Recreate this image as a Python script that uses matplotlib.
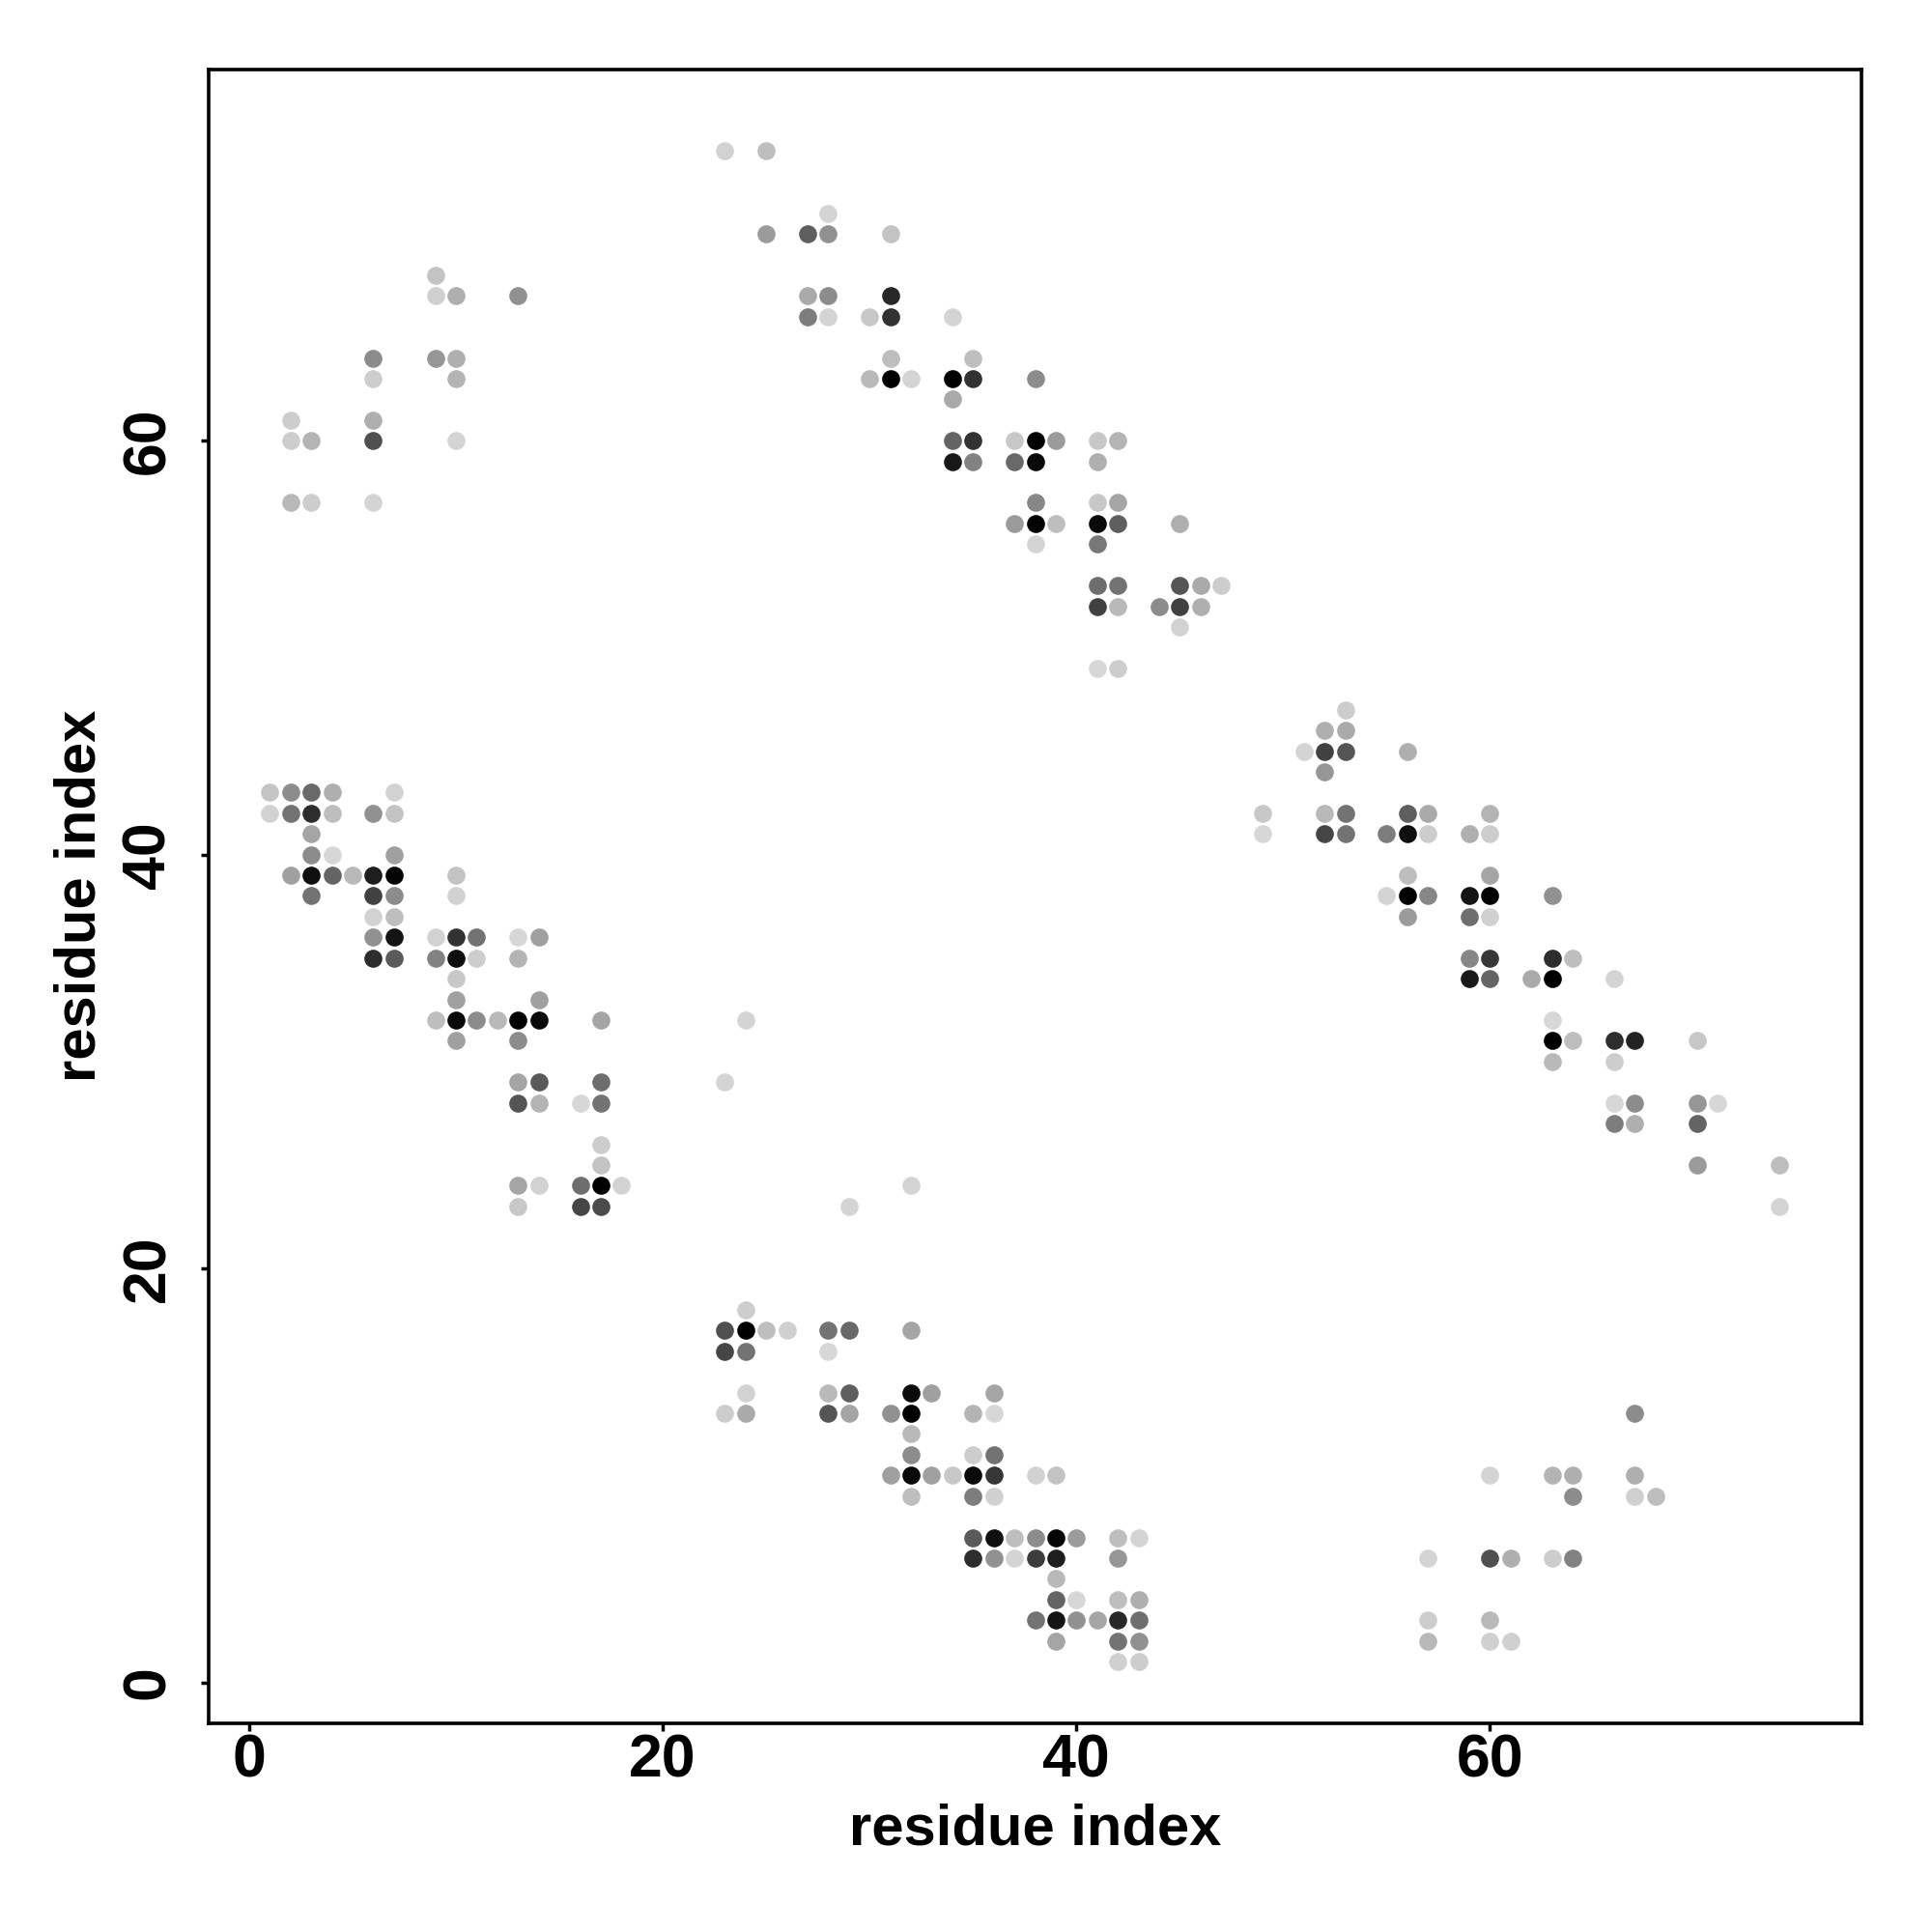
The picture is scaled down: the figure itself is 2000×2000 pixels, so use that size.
import matplotlib
matplotlib.use("Agg")
import matplotlib.pyplot as plt

plt.rcParams['font.family'] = ['Liberation Sans', 'DejaVu Sans']

row_y = [74, 71, 70, 68, 67, 66, 64, 63, 62, 61, 60, 59, 57, 56, 55, 53, 52, 51, 49,
         47, 46, 45, 44, 43, 42, 41, 40, 39, 38, 37, 36, 35, 34, 33, 32, 31, 30,
         29, 28, 27, 26, 25, 24, 23, 18, 17, 16, 14, 13, 12, 11, 10, 9, 7, 6, 5, 4, 3, 2, 1]

row_x = [
    [23, 25],
    [28],
    [25, 27, 28, 31],
    [9],
    [9, 10, 13, 27, 28, 31],
    [27, 28, 30, 31, 34],
    [6, 9, 10, 31, 35],
    [6, 10, 30, 31, 32, 34, 35, 38],
    [34],
    [2, 6],
    [2, 3, 6, 10, 34, 35, 37, 38, 39, 41, 42],
    [34, 35, 37, 38, 41],
    [2, 3, 6, 38, 41, 42],
    [37, 38, 39, 41, 42, 45],
    [38, 41],
    [41, 42, 45, 46, 47],
    [41, 42, 44, 45, 46],
    [45],
    [41, 42],
    [53],
    [52, 53],
    [51, 52, 53, 56],
    [52],
    [1, 2, 3, 4, 7],
    [1, 2, 3, 4, 6, 7, 49, 52, 53, 56, 57, 60],
    [3, 49, 52, 53, 55, 56, 57, 59, 60],
    [3, 4, 7],
    [2, 3, 4, 5, 6, 7, 10, 56, 60],
    [3, 6, 7, 10, 55, 56, 57, 59, 60, 63],
    [6, 7, 56, 59, 60],
    [6, 7, 9, 10, 11, 13, 14],
    [6, 7, 9, 10, 11, 13, 59, 60, 63, 64],
    [10, 59, 60, 62, 63, 66],
    [10, 14],
    [9, 10, 11, 12, 13, 14, 17, 24, 63],
    [10, 13, 63, 64, 66, 67, 70],
    [63, 66],
    [13, 14, 17, 23],
    [13, 14, 16, 17, 66, 67, 70, 71],
    [66, 67, 70],
    [17],
    [17, 70, 74],
    [13, 14, 16, 17, 18, 32],
    [13, 16, 17, 29, 74],
    [24],
    [23, 24, 25, 26, 28, 29, 32],
    [23, 24, 28],
    [24, 28, 29, 32, 33, 36],
    [23, 24, 28, 29, 31, 32, 35, 36, 67],
    [32],
    [32, 35, 36],
    [31, 32, 33, 34, 35, 36, 38, 39, 60, 63, 64, 67],
    [32, 35, 36, 64, 67, 68],
    [35, 36, 37, 38, 39, 40, 42, 43],
    [35, 36, 37, 38, 39, 42, 57, 60, 61, 63, 64],
    [39],
    [39, 40, 42, 43],
    [38, 39, 40, 41, 42, 43, 57, 60],
    [39, 42, 43, 57, 60, 61],
    [42, 43],
]

row_gray = [
    [210, 190],
    [212],
    [155, 95, 145, 195],
    [195],
    [208, 175, 145, 170, 140, 40],
    [125, 212, 200, 50, 212],
    [140, 150, 175, 190, 190],
    [205, 180, 185, 0, 212, 0, 50, 140],
    [170],
    [205, 175],
    [205, 180, 80, 212, 100, 50, 200, 0, 155, 200, 180],
    [25, 130, 105, 10, 175],
    [185, 205, 212, 135, 200, 165],
    [155, 0, 190, 10, 95, 175],
    [212, 120],
    [110, 115, 85, 170, 205],
    [65, 185, 140, 65, 175],
    [210],
    [215, 205],
    [205],
    [175, 170],
    [212, 65, 85, 175],
    [150],
    [197, 140, 105, 175, 210],
    [210, 115, 45, 190, 145, 195, 200, 185, 115, 95, 170, 180],
    [165, 215, 70, 115, 125, 15, 205, 175, 205],
    [140, 215, 160],
    [160, 15, 100, 185, 30, 5, 195, 190, 165],
    [115, 65, 140, 210, 212, 0, 135, 20, 0, 145],
    [210, 190, 155, 110, 208],
    [145, 20, 210, 50, 115, 215, 160],
    [45, 90, 130, 15, 205, 180, 135, 55, 45, 190],
    [200, 25, 100, 170, 0, 212],
    [160, 160],
    [190, 10, 140, 185, 0, 10, 165, 212, 215],
    [160, 140, 0, 190, 45, 35, 200],
    [185, 205],
    [165, 90, 110, 212],
    [85, 180, 215, 115, 215, 140, 150, 215],
    [125, 175, 100],
    [205],
    [195, 155, 190],
    [165, 210, 110, 0, 210, 212],
    [200, 70, 75, 212, 212],
    [205],
    [80, 0, 190, 208, 115, 105, 165],
    [70, 115, 215],
    [210, 185, 95, 10, 160, 165],
    [205, 170, 85, 165, 145, 0, 180, 215, 140],
    [185],
    [140, 205, 115],
    [160, 10, 160, 200, 10, 55, 210, 195, 212, 180, 175, 175],
    [190, 125, 208, 140, 208, 190],
    [90, 15, 190, 140, 5, 155, 190, 212],
    [45, 145, 212, 60, 30, 150, 212, 80, 175, 205, 130],
    [185],
    [100, 215, 190, 175],
    [115, 20, 145, 165, 40, 110, 205, 185],
    [165, 115, 145, 185, 208, 208],
    [208, 205],
]

x_ticks = [0, 20, 40, 60]
y_ticks = [0, 20, 40, 60]
axis_label = "residue index"

fig = plt.figure(figsize=(20, 20), dpi=100, facecolor="white")
ax = fig.add_axes([216 / 2000, 1 - 1783.5 / 2000, (1927 - 216) / 2000, (1783.5 - 71.5) / 2000])

for yv, xs, grays in zip(row_y, row_x, row_gray):
    for xv, g in zip(xs, grays):
        ax.scatter([xv], [yv], s=180, color=str(g / 255), linewidths=0, zorder=3)

ax.set_xlim(-1.96, 77.96)
ax.set_ylim(-1.96, 77.96)
ax.set_xticks(x_ticks)
ax.set_yticks(y_ticks)
for s in ax.spines.values():
    s.set_linewidth(2.6)
ax.tick_params(axis="both", length=5.5, width=2.5, labelsize=45)
ax.tick_params(axis="x", pad=2)
ax.tick_params(axis="y", pad=18)
for lab in ax.get_xticklabels():
    lab.set_fontweight("bold")
for lab in ax.get_yticklabels():
    lab.set_fontweight("bold")
    lab.set_rotation(90)
    lab.set_va("center")
ax.set_xlabel(axis_label, fontsize=43, fontweight="bold", labelpad=10)
ax.set_ylabel(axis_label, fontsize=43, fontweight="bold", labelpad=10)

fig.savefig("out.png", dpi=100)
